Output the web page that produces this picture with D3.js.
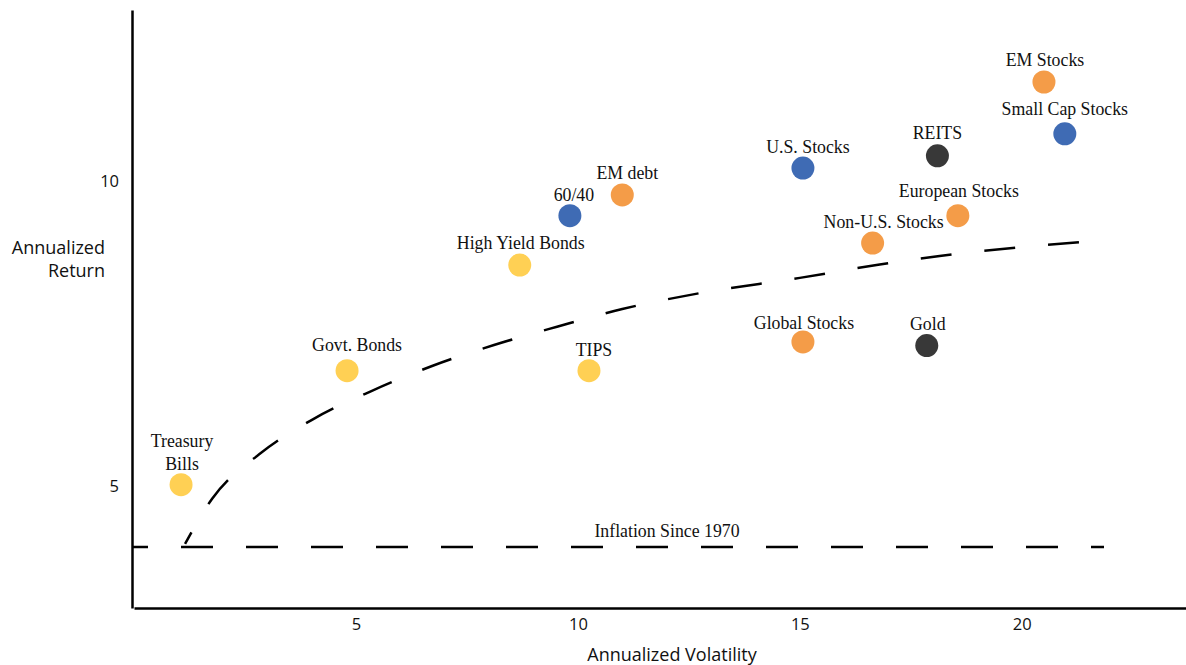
<!DOCTYPE html>
<html>
<head>
<meta charset="utf-8">
<script src="https://cdn.jsdelivr.net/npm/d3@7"></script>
<style>
  body { margin: 0; background: #fff; }
  svg { display: block; }
  .axis text { font-family: "Open Sans", "Noto Sans", sans-serif; font-size: 16.5px; fill: #111; }
  .axis-title { font-family: "Open Sans", "Noto Sans", sans-serif; font-size: 18px; fill: #111; }
  .asset-label { font-family: "Liberation Serif", serif; font-size: 17.8px; fill: #111; }
</style>
</head>
<body>
<div id="chart"></div>
<script>
// asset classes: annualized volatility vs annualized return
const assetNames = ["Treasury Bills", "Govt. Bonds", "TIPS", "High Yield Bonds", "60/40", "EM debt",
    "U.S. Stocks", "REITS", "European Stocks", "Non-U.S. Stocks", "Global Stocks", "Gold",
    "EM Stocks", "Small Cap Stocks"];
const volatility = [1.06, 4.8, 10.25, 8.69, 9.82, 11.0, 15.07, 18.1, 18.56, 16.64, 15.07, 17.86, 20.5, 20.97];
const annualReturn = [5.02, 6.89, 6.89, 8.62, 9.43, 9.77, 10.21, 10.41, 9.43, 8.98, 7.36, 7.3, 11.62, 10.77];
const assetGroup = ["cash", "cash", "cash", "cash", "blend", "intl", "blend", "real", "intl", "intl",
    "intl", "real", "intl", "blend"];

// dashed frontier curve
const frontierVol = [1.15, 1.76, 2.82, 4.0, 5.36, 6.73, 8.11, 9.53, 11.0, 12.75, 15.0, 16.8, 18.15, 21.4];
const frontierRet = [4.05, 4.79, 5.52, 6.08, 6.56, 6.97, 7.31, 7.61, 7.9, 8.16, 8.41, 8.63, 8.77, 9.0];

const inflationRate = 4.0;
const inflationLabel = "Inflation Since 1970";
const xTicks = [5, 10, 15, 20];
const yTicks = [5, 10];

const groupColor = {
    cash: "#ffd054",
    blend: "#3f6bb4",
    intl: "#f49c48",
    real: "#383838"
};

// label tweaks (dx, dy relative to dot centre)
const labelShift = {
    "Govt. Bonds": [10, -20],
    "TIPS": [5, -15],
    "60/40": [4, -15],
    "EM debt": [5, -16],
    "U.S. Stocks": [5, -15],
    "REITS": [0, -17],
    "European Stocks": [1, -19],
    "Non-U.S. Stocks": [11, -15],
    "Global Stocks": [1, -13],
    "Small Cap Stocks": [0, -19]
};

const width = 1186, height = 665;

const svg = d3.select("#chart").append("svg")
    .attr("width", width)
    .attr("height", height);

const x = d3.scaleLinear().domain([0, 23.7]).range([134, 1186]);
const y = d3.scaleLinear().domain([3, 12.8]).range([608, 10]);

// axes
svg.append("g")
    .attr("class", "axis")
    .attr("transform", `translate(0,${y(3)})`)
    .call(d3.axisBottom(x).tickValues(xTicks).tickSize(0).tickPadding(10).tickFormat(d3.format("d")));

svg.append("g")
    .attr("class", "axis")
    .attr("transform", `translate(${x(0) - 2},0)`)
    .call(d3.axisLeft(y).tickValues(yTicks).tickSize(0).tickPadding(13).tickFormat(d3.format("d")));

svg.selectAll(".axis .domain")
    .attr("stroke", "#000")
    .attr("stroke-width", 2.5);

svg.append("text")
    .attr("class", "axis-title")
    .attr("x", 672)
    .attr("y", 661)
    .attr("text-anchor", "middle")
    .text("Annualized Volatility");

svg.append("text")
    .attr("class", "axis-title")
    .attr("text-anchor", "end")
    .selectAll("tspan")
    .data(["Annualized", "Return"])
    .join("tspan")
    .attr("x", 105)
    .attr("y", (d, i) => 254 + i * 23)
    .text(d => d);

// inflation line
svg.append("line")
    .attr("x1", x(0) - 2)
    .attr("x2", 1104)
    .attr("y1", y(inflationRate))
    .attr("y2", y(inflationRate))
    .attr("stroke", "#000")
    .attr("stroke-width", 2.5)
    .attr("stroke-dasharray", "32,33")
    .attr("stroke-dashoffset", 16);

svg.append("text")
    .attr("class", "asset-label")
    .attr("x", 667)
    .attr("y", y(inflationRate) - 10)
    .attr("text-anchor", "middle")
    .text(inflationLabel);

// frontier
const frontier = d3.line()
    .x(d => x(d[0]))
    .y(d => y(d[1]))
    .curve(d3.curveMonotoneX);

svg.append("path")
    .datum(d3.zip(frontierVol, frontierRet))
    .attr("d", frontier)
    .attr("fill", "none")
    .attr("stroke", "#000")
    .attr("stroke-width", 2.5)
    .attr("stroke-dasharray", "31,33")
    .attr("stroke-dashoffset", 18);

// dots
const assets = assetNames.map((name, i) => ({
    name: name,
    vol: volatility[i],
    ret: annualReturn[i],
    group: assetGroup[i]
}));

svg.append("g")
    .selectAll("circle")
    .data(assets)
    .join("circle")
    .attr("cx", d => x(d.vol))
    .attr("cy", d => y(d.ret))
    .attr("r", 11.5)
    .attr("fill", d => groupColor[d.group]);

const labels = svg.append("g")
    .selectAll("text")
    .data(assets)
    .join("text")
    .attr("class", "asset-label")
    .attr("text-anchor", "middle");

labels.each(function (d) {
    const t = d3.select(this);
    const shift = labelShift[d.name] || [1, -16];
    const cx = x(d.vol) + shift[0], cy = y(d.ret);
    if (d.name === "Treasury Bills") {
        t.selectAll("tspan")
            .data(["Treasury", "Bills"])
            .join("tspan")
            .attr("x", cx)
            .attr("y", (s, i) => cy - 38 + i * 23)
            .text(s => s);
    } else {
        t.attr("x", cx).attr("y", cy + shift[1]).text(d.name);
    }
});
</script>
</body>
</html>
